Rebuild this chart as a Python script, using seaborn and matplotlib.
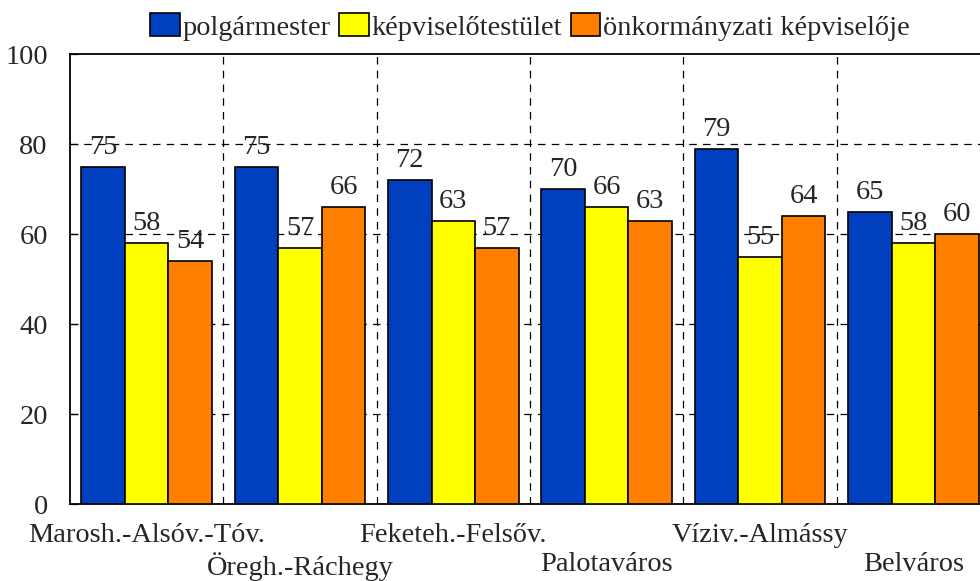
import matplotlib
matplotlib.use("Agg")
import matplotlib.pyplot as plt
import matplotlib.transforms as mtransforms
import pandas as pd
import seaborn as sns

districts = [
    "Marosh.-Alsóv.-Tóv.",
    "Öregh.-Ráchegy",
    "Feketeh.-Felsőv.",
    "Palotaváros",
    "Víziv.-Almássy",
    "Belváros",
]
series = ["polgármester", "képviselőtestület", "önkormányzati képviselője"]
polgarmester = [75, 75, 72, 70, 79, 65]
testulet = [58, 57, 63, 66, 55, 58]
kepviselo = [54, 66, 57, 63, 64, 60]
y_ticks = [0, 20, 40, 60, 80, 100]

colors = {
    "polgármester": "#0040BF",
    "képviselőtestület": "#FFFF00",
    "önkormányzati képviselője": "#FF8000",
}

df = pd.DataFrame({
    "district": districts * 3,
    "series": [s for s in series for _ in districts],
    "value": polgarmester + testulet + kepviselo,
})

sns.set_style("white")
plt.rcParams["font.family"] = ["Liberation Serif", "DejaVu Serif"]
fs = 20.4

fig = plt.figure(figsize=(9.8, 5.81), dpi=100)
ax = fig.add_axes([70 / 980, 77 / 581, 920 / 980, 450 / 581])

sns.barplot(
    data=df, x="district", y="value", hue="series", palette=colors,
    width=0.853, edgecolor="black", linewidth=1.2, saturation=1,
    ax=ax, zorder=3,
)

# dashed guides behind the bars
for yv in y_ticks[1:-1]:
    ax.axhline(yv, color="black", ls=(0, (6, 5)), lw=0.9, zorder=1)
for i in range(len(districts) - 1):
    ax.axvline(i + 0.5, color="black", ls=(0, (6, 5)), lw=0.9, zorder=1)

for cont in ax.containers:
    ax.bar_label(cont, fmt="%d", padding=5, fontsize=fs, zorder=2)

ax.set_xlim(-0.5, len(districts) - 0.5)
ax.set_ylim(0, 100)
ax.set_yticks(y_ticks)
ax.set_yticklabels([str(t) for t in y_ticks], fontsize=fs)
ax.tick_params(axis="y", direction="in", length=6, width=0.9, pad=16, left=True)
ax.tick_params(axis="x", length=0, pad=14)
ax.set_xticks(range(len(districts)))
ax.set_xticklabels(districts, fontsize=fs)
# stagger every second category label onto a lower row
shift = mtransforms.ScaledTranslation(0, -29 / 100, fig.dpi_scale_trans)
for i, lab in enumerate(ax.get_xticklabels()):
    if i % 2 == 1:
        lab.set_transform(lab.get_transform() + shift)
ax.set_xlabel("")
ax.set_ylabel("")
for sp in ax.spines.values():
    sp.set_visible(True)
    sp.set_color("black")
    sp.set_linewidth(1.3)

ax.legend(
    loc="center", bbox_to_anchor=(530 / 980, 1 - 27 / 581),
    bbox_transform=fig.transFigure, ncol=3, frameon=False, fontsize=fs,
    handlelength=1.05, handleheight=0.85, handletextpad=0.1, columnspacing=0.3,
    borderpad=0,
)

fig.savefig("out.png", dpi=100)
